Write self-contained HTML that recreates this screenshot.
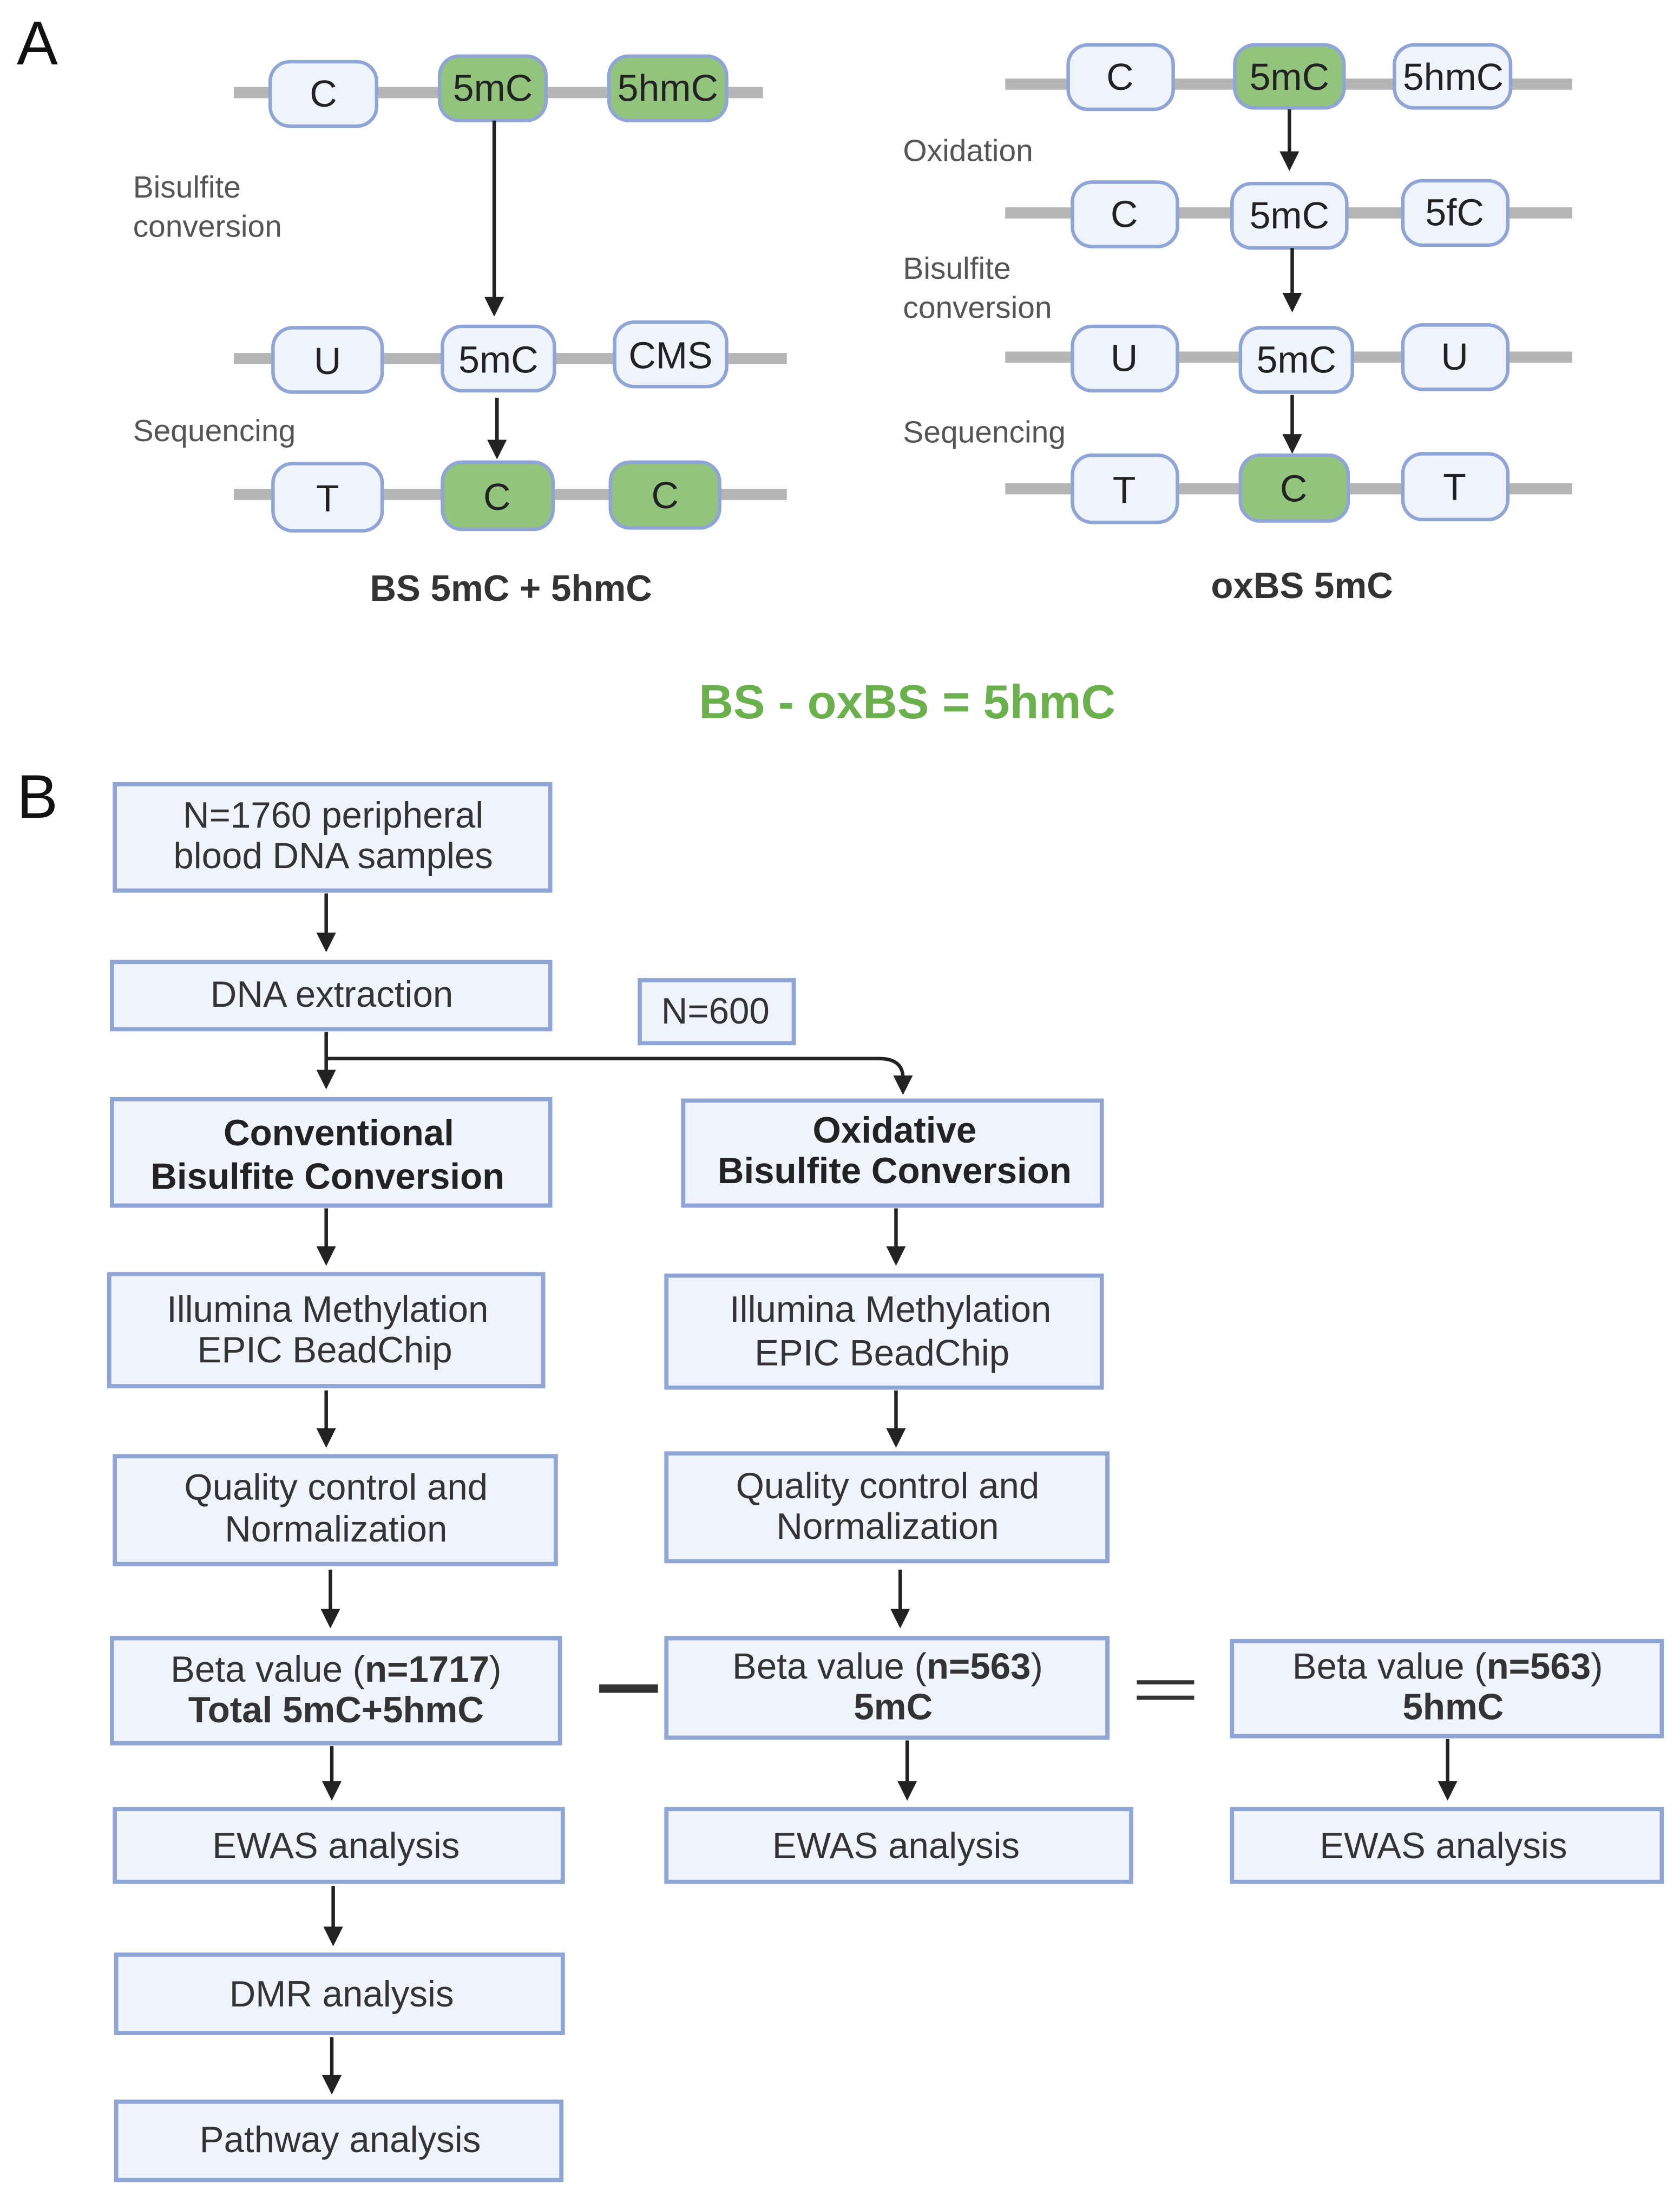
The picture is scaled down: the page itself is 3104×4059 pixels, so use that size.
<!DOCTYPE html>
<html><head><meta charset="utf-8"><style>
html,body{margin:0;padding:0;background:#fff;}
svg{display:block}
text{font-family:"Liberation Sans",sans-serif;}
</style></head><body>
<svg width="3104" height="4059" viewBox="0 0 1200 1569" xmlns="http://www.w3.org/2000/svg">
<defs>
<marker id="ah" markerWidth="16" markerHeight="16" refX="2" refY="7" orient="auto" markerUnits="userSpaceOnUse"><path d="M0,0 L14,7 L0,14 Z" fill="#222"/></marker>
</defs>
<rect width="1200" height="1569" fill="#fff"/>
<g fill="#111">
<text x="12" y="46" font-size="44">A</text>
<text x="12" y="584" font-size="44">B</text>
</g>
<g stroke="#b5b5b5" stroke-width="8">
<line x1="167" y1="66" x2="545" y2="66"/>
<line x1="167" y1="256" x2="562" y2="256"/>
<line x1="167" y1="353" x2="562" y2="353"/>
<line x1="718" y1="60" x2="1123" y2="60"/>
<line x1="718" y1="152" x2="1123" y2="152"/>
<line x1="718" y1="255" x2="1123" y2="255"/>
<line x1="718" y1="349" x2="1123" y2="349"/>
</g>
<g stroke="#8fa5d6" stroke-width="2.5">
<rect x="193" y="44" width="76" height="46" rx="14" fill="#eef3fc"/>
<rect x="314" y="40" width="76" height="46" rx="14" fill="#93c47d"/>
<rect x="435" y="40" width="84" height="46" rx="14" fill="#93c47d"/>
<rect x="195" y="234" width="78" height="46" rx="14" fill="#eef3fc"/>
<rect x="316" y="233" width="80" height="46" rx="14" fill="#eef3fc"/>
<rect x="439" y="230" width="80" height="46" rx="14" fill="#eef3fc"/>
<rect x="195" y="331" width="78" height="48" rx="14" fill="#eef3fc"/>
<rect x="316" y="330" width="79" height="48" rx="14" fill="#93c47d"/>
<rect x="436" y="330" width="78" height="47" rx="14" fill="#93c47d"/>
<rect x="763" y="32" width="75" height="46" rx="14" fill="#eef3fc"/>
<rect x="882" y="32" width="78" height="45" rx="14" fill="#93c47d"/>
<rect x="996" y="32" width="83" height="45" rx="14" fill="#eef3fc"/>
<rect x="766" y="130" width="75" height="46" rx="14" fill="#eef3fc"/>
<rect x="880" y="131" width="82" height="46" rx="14" fill="#eef3fc"/>
<rect x="1002" y="129" width="75" height="46" rx="14" fill="#eef3fc"/>
<rect x="766" y="233" width="75" height="46" rx="14" fill="#eef3fc"/>
<rect x="886" y="234" width="80" height="46" rx="14" fill="#eef3fc"/>
<rect x="1002" y="232" width="75" height="46" rx="14" fill="#eef3fc"/>
<rect x="766" y="325" width="75" height="48" rx="14" fill="#eef3fc"/>
<rect x="886" y="325" width="77" height="47" rx="14" fill="#93c47d"/>
<rect x="1002" y="324" width="75" height="47" rx="14" fill="#eef3fc"/>
</g>
<g font-size="27" fill="#222" text-anchor="middle">
<text x="231" y="76">C</text><text x="352" y="72">5mC</text><text x="477" y="72">5hmC</text>
<text x="234" y="267">U</text><text x="356" y="266">5mC</text><text x="479" y="263">CMS</text>
<text x="234" y="365">T</text><text x="355" y="364">C</text><text x="475" y="363">C</text>
<text x="800" y="64">C</text><text x="921" y="64">5mC</text><text x="1038" y="64">5hmC</text>
<text x="803" y="162">C</text><text x="921" y="163">5mC</text><text x="1039" y="161">5fC</text>
<text x="803" y="265">U</text><text x="926" y="266">5mC</text><text x="1039" y="264">U</text>
<text x="803" y="359">T</text><text x="924" y="358">C</text><text x="1039" y="357">T</text>
</g>
<g font-size="22" fill="#555">
<text x="95" y="141">Bisulfite</text><text x="95" y="169">conversion</text>
<text x="95" y="315">Sequencing</text>
<text x="645" y="115">Oxidation</text>
<text x="645" y="199">Bisulfite</text><text x="645" y="227">conversion</text>
<text x="645" y="316">Sequencing</text>
</g>
<g stroke="#222" stroke-width="2.5" marker-end="url(#ah)">
<line x1="353" y1="86" x2="353" y2="214"/>
<line x1="355" y1="284" x2="355" y2="316"/>
<line x1="921" y1="78" x2="921" y2="110"/>
<line x1="923" y1="177" x2="923" y2="211"/>
<line x1="923" y1="282" x2="923" y2="312"/>
</g>
<g font-weight="bold" fill="#333" text-anchor="middle">
<text x="365" y="429" font-size="26">BS 5mC + 5hmC</text>
<text x="930" y="427" font-size="26">oxBS 5mC</text>
<text x="648" y="513" font-size="34" fill="#6ab04c">BS - oxBS = 5hmC</text>
</g>
<g fill="#eef3fc" stroke="#8fa5d6" stroke-width="3">
<rect x="82" y="560" width="311" height="76"/>
<rect x="80" y="687" width="313" height="48"/>
<rect x="457" y="700" width="110" height="45"/>
<rect x="80" y="785" width="313" height="76"/>
<rect x="488" y="786" width="299" height="75"/>
<rect x="78" y="910" width="310" height="80"/>
<rect x="476" y="911" width="311" height="80"/>
<rect x="82" y="1040" width="315" height="77"/>
<rect x="476" y="1038" width="315" height="77"/>
<rect x="80" y="1170" width="320" height="75"/>
<rect x="476" y="1170" width="315" height="71"/>
<rect x="880" y="1172" width="307" height="68"/>
<rect x="82" y="1292" width="320" height="52"/>
<rect x="476" y="1292" width="332" height="52"/>
<rect x="880" y="1292" width="307" height="52"/>
<rect x="83" y="1396" width="319" height="56"/>
<rect x="83" y="1501" width="318" height="56"/>
</g>
<g font-size="26" fill="#333" text-anchor="middle">
<text x="238" y="591">N=1760 peripheral</text><text x="238" y="620">blood DNA samples</text>
<text x="237" y="719">DNA extraction</text>
<text x="511" y="731">N=600</text>
<text x="234" y="944">Illumina  Methylation</text><text x="232" y="973">EPIC BeadChip</text>
<text x="636" y="944">Illumina  Methylation</text><text x="630" y="975">EPIC BeadChip</text>
<text x="240" y="1071">Quality control and</text><text x="240" y="1101">Normalization</text>
<text x="634" y="1070">Quality control and</text><text x="634" y="1099">Normalization</text>
<text x="240" y="1201">Beta value (<tspan font-weight="bold">n=1717</tspan>)</text><text x="240" y="1230" font-weight="bold">Total 5mC+5hmC</text>
<text x="634" y="1199">Beta value (<tspan font-weight="bold">n=563</tspan>)</text><text x="638" y="1228" font-weight="bold">5mC</text>
<text x="1034" y="1199">Beta value (<tspan font-weight="bold">n=563</tspan>)</text><text x="1038" y="1228" font-weight="bold">5hmC</text>
<text x="240" y="1327">EWAS analysis</text>
<text x="640" y="1327">EWAS analysis</text>
<text x="1031" y="1327">EWAS analysis</text>
<text x="244" y="1433">DMR analysis</text>
<text x="243" y="1537">Pathway analysis</text>
</g>
<g font-size="26" fill="#222" font-weight="bold" text-anchor="middle">
<text x="242" y="818">Conventional</text><text x="234" y="849">Bisulfite Conversion</text>
<text x="639" y="816">Oxidative</text><text x="639" y="845">Bisulfite Conversion</text>
</g>
<rect x="428" y="1203" width="42" height="6" fill="#333"/>
<rect x="812" y="1200" width="41" height="3" fill="#333"/>
<rect x="812" y="1211" width="41" height="3" fill="#333"/>
<g stroke="#222" stroke-width="2.5" marker-end="url(#ah)" fill="none">
<line x1="233" y1="638" x2="233" y2="668"/>
<line x1="233" y1="737" x2="233" y2="766"/>
<path d="M233,756 L628,756 Q645,756 645,770"/>
<line x1="233" y1="863" x2="233" y2="892"/>
<line x1="640" y1="863" x2="640" y2="892"/>
<line x1="233" y1="993" x2="233" y2="1022"/>
<line x1="640" y1="993" x2="640" y2="1022"/>
<line x1="236" y1="1121" x2="236" y2="1151"/>
<line x1="643" y1="1121" x2="643" y2="1151"/>
<line x1="237" y1="1247" x2="237" y2="1274"/>
<line x1="648" y1="1243" x2="648" y2="1274"/>
<line x1="1034" y1="1242" x2="1034" y2="1274"/>
<line x1="238" y1="1347" x2="238" y2="1378"/>
<line x1="237" y1="1455" x2="237" y2="1484"/>
</g>
</svg>
</body></html>
